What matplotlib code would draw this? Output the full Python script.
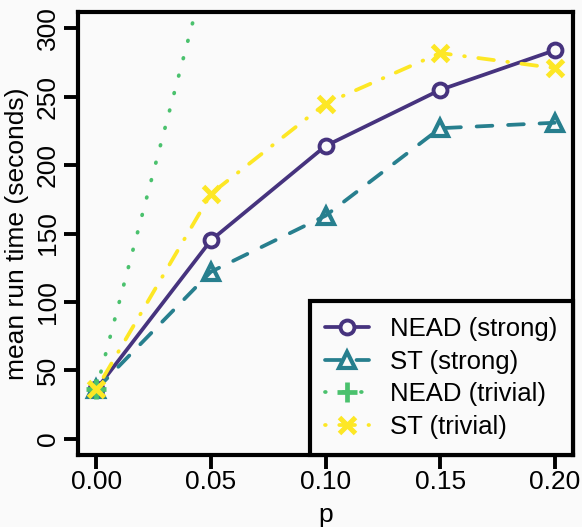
import matplotlib
matplotlib.use("Agg")
import matplotlib.pyplot as plt

p = [0.00, 0.05, 0.10, 0.15, 0.20]
nead_strong = [36, 145, 214, 255, 284]
st_strong = [36, 122, 163, 227, 231]
nead_trivial = [36, 355, 690, 1020, 1350]
st_trivial = [36, 179, 245, 282, 271]

x_ticks = [0.00, 0.05, 0.10, 0.15, 0.20]
x_tick_labels = ["0.00", "0.05", "0.10", "0.15", "0.20"]
y_ticks = [0, 50, 100, 150, 200, 250, 300]

PURPLE = "#46337e"
TEAL = "#277f8e"
GREEN = "#4ac16d"
YELLOW = "#fde725"
BG = "#fafafa"

plt.rcParams["font.family"] = ["Liberation Sans", "DejaVu Sans"]
plt.rcParams["font.size"] = 19

fig = plt.figure(figsize=(5.82, 5.27), dpi=100, facecolor=BG)
ax = fig.add_axes([78 / 582, (527 - 455) / 527, (573 - 78) / 582, (455 - 12) / 527])
ax.set_facecolor(BG)

lw = 2.7
ax.plot(p, nead_strong, color=PURPLE, lw=lw, marker="o", ms=10, mew=2.8,
        mfc=BG, label="NEAD (strong)", solid_capstyle="round")
ax.plot(p, st_strong, color=TEAL, lw=lw, dashes=(4.2, 4.2), dash_capstyle="round",
        marker="^", ms=12, mew=3, mfc="none", label="ST (strong)")
ax.plot(p, nead_trivial, color=GREEN, lw=lw, dashes=(0.2, 4.6), dash_capstyle="round",
        marker="+", ms=14, mew=3.4, label="NEAD (trivial)")
ax.plot(p, st_trivial, color=YELLOW, lw=lw, dashes=(0.2, 3.6, 4.2, 3.6), dash_capstyle="round",
        marker="x", ms=11, mew=3.6, label="ST (trivial)")

ax.set_xlim(-0.008, 0.208)
ax.set_ylim(-12, 312)
ax.set_xticks(x_ticks)
ax.set_xticklabels(x_tick_labels)
ax.set_yticks(y_ticks)
ax.set_yticklabels([str(v) for v in y_ticks], rotation=90, va="center")
ax.tick_params(axis="both", length=10, width=2.8, color="black")
ax.tick_params(axis="x", pad=1)
ax.tick_params(axis="y", pad=3)
for s in ax.spines.values():
    s.set_linewidth(3)

ax.set_xlabel("p", labelpad=6)
ax.set_ylabel("mean run time (seconds)", labelpad=5)

leg = ax.legend(loc="lower right", borderaxespad=0, fancybox=False, framealpha=1,
                edgecolor="black", facecolor=BG, numpoints=1, handlelength=1.7,
                handletextpad=0.8, labelspacing=0.34, borderpad=0.62, fontsize=18.5)
leg.get_frame().set_linewidth(3)

fig.savefig("out.png", dpi=100, facecolor=BG)
